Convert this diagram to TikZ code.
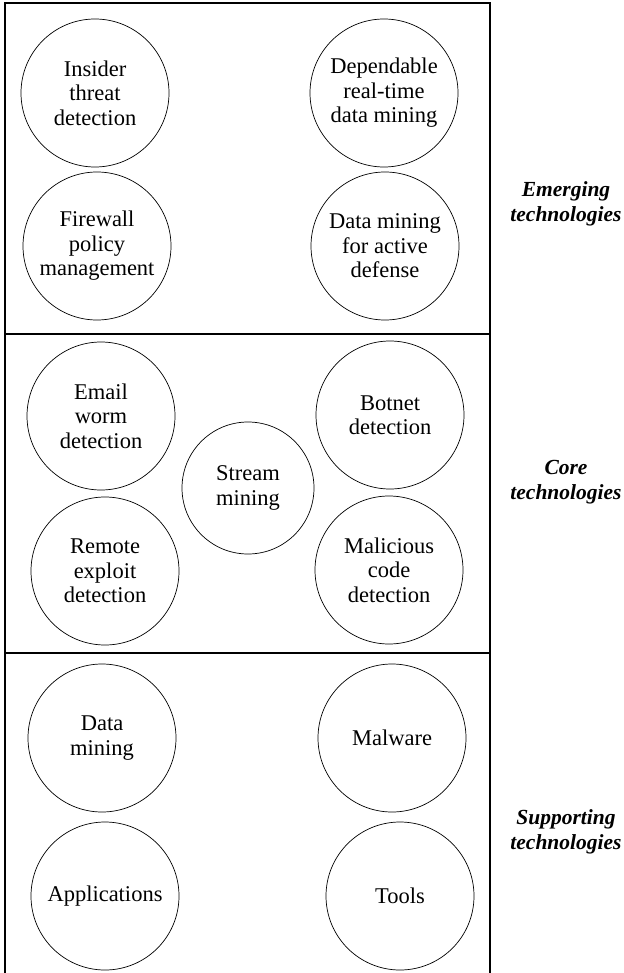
\documentclass[tikz,border=0pt]{standalone}
\usepackage{fontspec}
\setmainfont{Liberation Serif}
\begin{document}
\begin{tikzpicture}[x=1pt,y=-1pt,
  topic/.style={circle,draw,line width=0.7pt,minimum size=148pt,inner sep=0pt,
    align=center,font=\fontsize{22.5}{24.5}\selectfont},
  small topic/.style={topic,minimum size=132pt},
  layer/.style={align=center,font=\fontsize{21.5}{25}\selectfont\bfseries\itshape},
  frame/.style={line width=1.1pt}]
\useasboundingbox (0,0) rectangle (623,973);
% layered frame, open at the bottom
\draw[frame] (5,973) -- (5,3) -- (490,3) -- (490,973);
\draw[frame] (5,334) -- (490,334);
\draw[frame] (5,653) -- (490,653);
% emerging layer
\node[topic] (insider) at (95,93) {Insider\\threat\\detection};
\node[topic] (dependable) at (384,93) {Dependable\\real-time\\data mining};
\node[topic] (firewall) at (97,246) {Firewall\\policy\\management};
\node[topic] (active) at (385,246) {Data mining\\for active\\defense};
% core layer
\node[topic] (email) at (101,416) {Email\\worm\\detection};
\node[topic] (botnet) at (390,415) {Botnet\\detection};
\node[small topic] (stream) at (248,488) {Stream\\mining};
\node[topic] (remote) at (105,571) {Remote\\exploit\\detection};
\node[topic] (malicious) at (389,570) {Malicious\\code\\detection};
% supporting layer
\node[topic] (datamining) at (102,738) {Data\\mining};
\node[topic] (malware) at (392,738) {Malware};
\node[topic] (applications) at (105,896) {Applications};
\node[topic] (tools) at (400,896) {Tools};
% layer names
\node[layer] (emerging) at (566,204) {Emerging\\technologies};
\node[layer] (core) at (566,482) {Core\\technologies};
\node[layer] (supporting) at (566,832) {Supporting\\technologies};
\end{tikzpicture}
\end{document}
